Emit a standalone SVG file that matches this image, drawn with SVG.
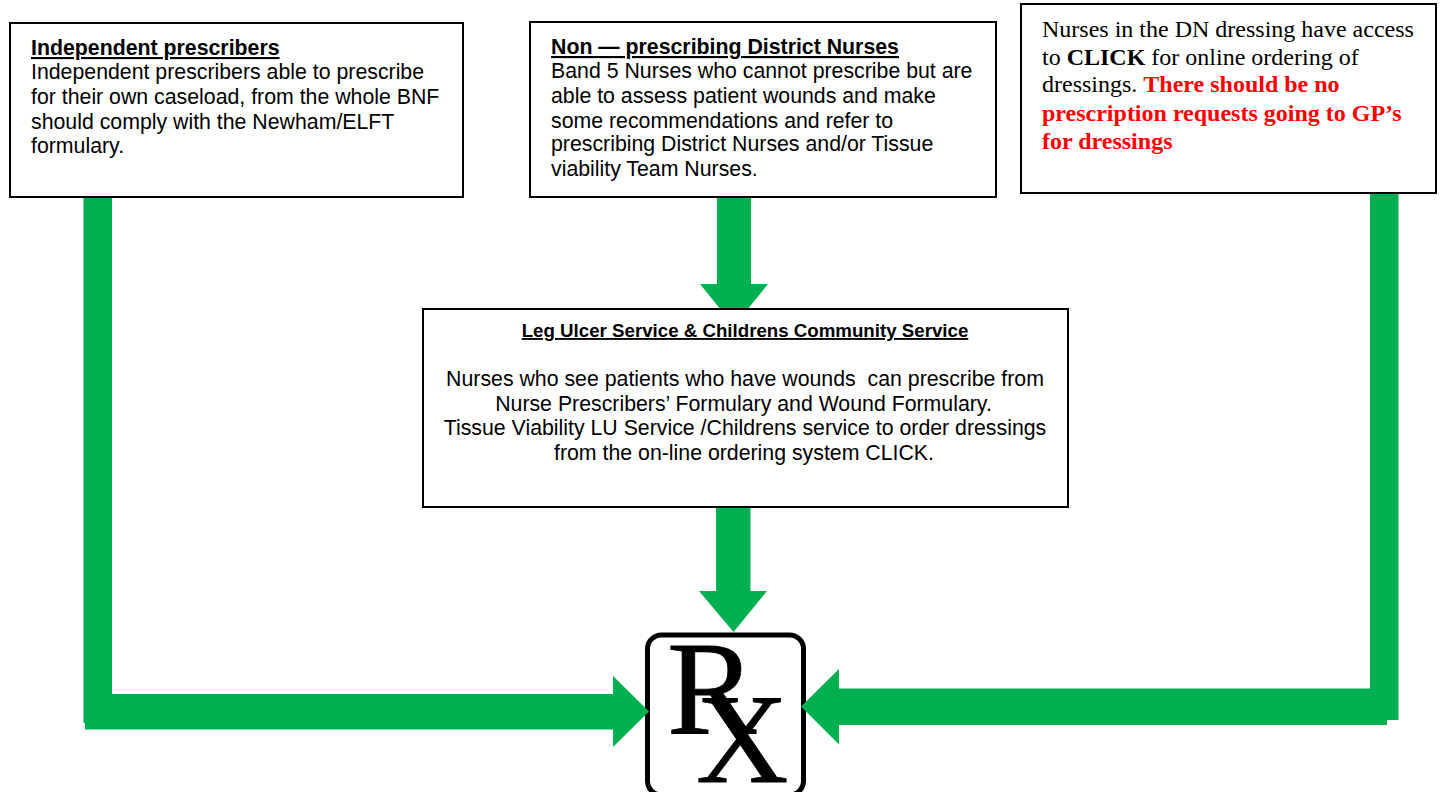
<svg xmlns="http://www.w3.org/2000/svg" width="1442" height="792" viewBox="0 0 1442 792">
<style>
.box{fill:#fff;stroke:#000;stroke-width:2}
.arrow{fill:#00b050}
text{fill:#000}
.sans{font-family:"Liberation Sans",Arial,sans-serif;font-size:21.3px}
.serif{font-family:"Liberation Serif","Times New Roman",serif;font-size:24px}
.head{font-weight:bold;text-decoration:underline}
.red{fill:#f00;font-weight:bold}
.mid{text-anchor:middle}
.rx{font-family:"Liberation Serif","Times New Roman",serif;font-size:134px;stroke:#000;stroke-width:.8}
</style>
<rect width="1442" height="792" fill="#fff"/>
<g id="node-rx">
<rect x="647.5" y="635" width="156" height="160" rx="14" fill="#fff" stroke="#000" stroke-width="5"/>
<text class="rx" x="667" y="733">R<tspan x="696" y="782" font-size="128">X</tspan></text>
</g>
<g id="connectors">
<polygon class="arrow" points="83.5,197 112,197 112,694 613,694 613,676 649,711.5 613,747 613,729.5 85,729.5 85,723 83.5,723"/>
<polygon class="arrow" points="1370,193 1398.5,193 1398.5,720 1387,720 1387,725 839,725 839,744.5 801,706.5 839,669 839,688.5 1370,688.5"/>
<polygon class="arrow" points="717,197 751,197 751,284 768,284 734,326 700,284 717,284"/>
<polygon class="arrow" points="716,507 750.5,507 750.5,591 767,591 733.5,632 699,591 716,591"/>
</g>
<g id="node-independent">
<rect class="box" x="10" y="23" width="453" height="174"/>
<text class="sans head" x="31" y="55">Independent prescribers</text>
<text class="sans" x="31" y="79">Independent prescribers able to prescribe</text>
<text class="sans" x="31" y="104">for their own caseload, from the whole BNF</text>
<text class="sans" x="31" y="129">should comply with the Newham/ELFT</text>
<text class="sans" x="31" y="153">formulary.</text>
</g>
<g id="node-non-prescribing">
<rect class="box" x="530" y="22" width="466" height="175"/>
<text class="sans head" x="551" y="54">Non — prescribing District Nurses</text>
<text class="sans" x="551" y="78">Band 5 Nurses who cannot prescribe but are</text>
<text class="sans" x="551" y="103">able to assess patient wounds and make</text>
<text class="sans" x="551" y="128">some recommendations and refer to</text>
<text class="sans" x="551" y="151">prescribing District Nurses and/or Tissue</text>
<text class="sans" x="551" y="176">viability Team Nurses.</text>
</g>
<g id="node-dn-dressing">
<rect class="box" x="1021" y="4" width="415" height="189"/>
<text class="serif" x="1042" y="37">Nurses in the DN dressing have access</text>
<text class="serif" x="1042" y="65">to <tspan font-weight="bold">CLICK</tspan> for online ordering of</text>
<text class="serif" x="1042" y="92">dressings. <tspan class="red">There should be no</tspan></text>
<text class="serif red" x="1042" y="121">prescription requests going to GP’s</text>
<text class="serif red" x="1042" y="149">for dressings</text>
</g>
<g id="node-leg-ulcer">
<rect class="box" x="423" y="309" width="645" height="198"/>
<text class="sans head mid" x="745" y="337" style="font-size:18.7px">Leg Ulcer Service &amp; Childrens Community Service</text>
<text class="sans mid" x="745" y="386" xml:space="preserve">Nurses who see patients who have wounds  can prescribe from</text>
<text class="sans mid" x="743.5" y="411">Nurse Prescribers’ Formulary and Wound Formulary.</text>
<text class="sans mid" x="745" y="435">Tissue Viability LU Service /Childrens service to order dressings</text>
<text class="sans mid" x="744" y="460">from the on-line ordering system CLICK.</text>
</g>
</svg>
